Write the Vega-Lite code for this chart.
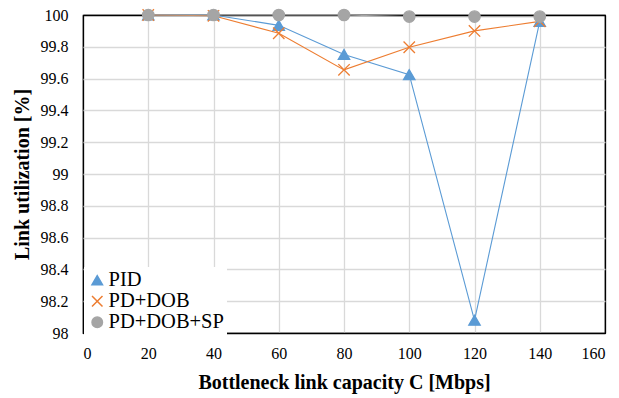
{
  "$schema": "https://vega.github.io/schema/vega-lite/v6.json",
  "width": 522,
  "height": 318,
  "autosize": {"type": "none"},
  "padding": {"left": 83, "top": 15, "right": 14, "bottom": 65},
  "background": "white",
  "config": {
    "font": "Liberation Serif",
    "view": {"stroke": "black", "strokeWidth": 1.2},
    "axis": {"labelFont": "Liberation Serif", "titleFont": "Liberation Serif", "labelFontSize": 16, "labelColor": "black", "titleColor": "black", "titleFontSize": 20, "titleFontWeight": "bold", "gridWidth": 1.3, "domain": false, "ticks": false},
    "legend": {"labelFont": "Liberation Serif", "labelFontSize": 20.5, "labelColor": "black"}
  },
  "data": {
    "values": [
      {"series": "PID", "c": 20, "u": 100},
      {"series": "PID", "c": 40, "u": 100},
      {"series": "PID", "c": 60, "u": 99.935},
      {"series": "PID", "c": 80, "u": 99.752},
      {"series": "PID", "c": 100, "u": 99.625},
      {"series": "PID", "c": 120, "u": 98.08},
      {"series": "PID", "c": 140, "u": 99.96},
      {"series": "PD+DOB", "c": 20, "u": 100},
      {"series": "PD+DOB", "c": 40, "u": 99.995},
      {"series": "PD+DOB", "c": 60, "u": 99.885},
      {"series": "PD+DOB", "c": 80, "u": 99.655},
      {"series": "PD+DOB", "c": 100, "u": 99.797},
      {"series": "PD+DOB", "c": 120, "u": 99.9},
      {"series": "PD+DOB", "c": 140, "u": 99.96},
      {"series": "PD+DOB+SP", "c": 20, "u": 100},
      {"series": "PD+DOB+SP", "c": 40, "u": 100},
      {"series": "PD+DOB+SP", "c": 60, "u": 100},
      {"series": "PD+DOB+SP", "c": 80, "u": 100},
      {"series": "PD+DOB+SP", "c": 100, "u": 99.99},
      {"series": "PD+DOB+SP", "c": 120, "u": 99.99},
      {"series": "PD+DOB+SP", "c": 140, "u": 99.99}
    ]
  },
  "encoding": {
    "x": {"field": "c", "type": "quantitative", "scale": {"domain": [0, 160], "nice": false}, "axis": {"values": [0, 20, 40, 60, 80, 100, 120, 140, 160], "title": "Bottleneck link capacity C [Mbps]", "labelPadding": 12, "titlePadding": 11, "gridColor": {"condition": {"test": "datum.value === 0 || datum.value === 160", "value": "black"}, "value": "#d9d9d9"}}},
    "y": {"field": "u", "type": "quantitative", "scale": {"domain": [98, 100], "nice": false, "zero": false}, "axis": {"values": [98, 98.2, 98.4, 98.6, 98.8, 99, 99.2, 99.4, 99.6, 99.8, 100], "format": ".1~f", "title": "Link utilization [%]", "labelPadding": 15, "titlePadding": 8, "gridColor": {"condition": {"test": "datum.value === 98 || datum.value === 100", "value": "black"}, "value": "#d9d9d9"}}}
  },
  "layer": [
    {
      "mark": {"type": "line", "strokeWidth": 1.1},
      "encoding": {
        "color": {"field": "series", "type": "nominal", "sort": ["PID", "PD+DOB", "PD+DOB+SP"], "scale": {"domain": ["PID", "PD+DOB", "PD+DOB+SP"], "range": ["#5B9BD5", "#ED7D31", "#A5A5A5"]}, "legend": null},
        "order": {"field": "c"}
      }
    },
    {
      "mark": {"type": "point", "opacity": 1, "strokeWidth": 1.3, "size": 130},
      "encoding": {
        "shape": {"field": "series", "type": "nominal", "scale": {"domain": ["PID", "PD+DOB", "PD+DOB+SP"], "range": ["triangle-up", "M-1,-1L1,1M-1,1L1,-1", "circle"]}, "title": null, "legend": {"orient": "none", "legendX": 1, "legendY": 252, "fillColor": "white", "padding": 3, "rowPadding": 0, "symbolSize": 110, "labelOffset": 1}},
        "fill": {"field": "series", "type": "nominal", "scale": {"domain": ["PID", "PD+DOB", "PD+DOB+SP"], "range": ["#5B9BD5", "transparent", "#A5A5A5"]}, "title": null, "legend": {"orient": "none", "legendX": 1, "legendY": 252, "fillColor": "white", "padding": 3, "rowPadding": 0, "symbolSize": 110, "labelOffset": 1}},
        "stroke": {"field": "series", "type": "nominal", "scale": {"domain": ["PID", "PD+DOB", "PD+DOB+SP"], "range": ["#5B9BD5", "#ED7D31", "#A5A5A5"]}, "title": null, "legend": {"orient": "none", "legendX": 1, "legendY": 252, "fillColor": "white", "padding": 3, "rowPadding": 0, "symbolSize": 110, "labelOffset": 1}}
      }
    }
  ],
  "resolve": {"scale": {"color": "independent"}}
}
